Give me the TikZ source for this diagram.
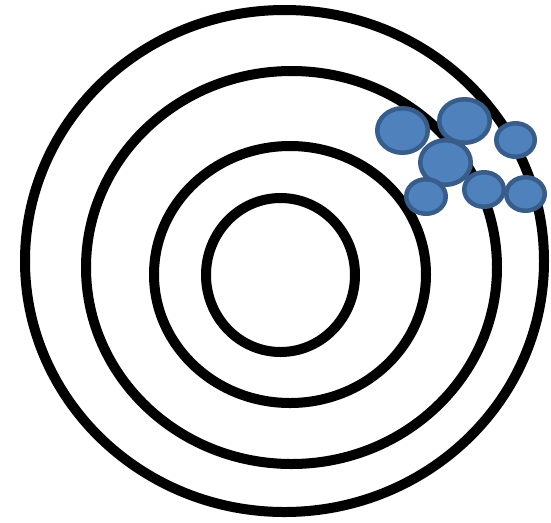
\documentclass[tikz,border=0pt]{standalone}
\usepackage{tikz}

\definecolor{dotfill}{RGB}{79,129,189}
\definecolor{dotedge}{RGB}{56,93,138}

\begin{document}
\begin{tikzpicture}[x=0.02cm,y=-0.02cm,
  ring/.style={line width=0.2cm,black},
  hit/.style={fill=dotfill,draw=dotedge,line width=0.09cm}]
\useasboundingbox (0,0) rectangle (551,522);

\draw[ring] (284.5,261) ellipse [x radius=259.5,y radius=251];
\draw[ring] (291.5,267.5) ellipse [x radius=205.5,y radius=196.5];
\draw[ring] (290,274.5) ellipse [x radius=136,y radius=128.5];
\draw[ring] (280.5,275) ellipse [x radius=74.5,y radius=77];

\draw[hit] (402.5,130.5) ellipse [x radius=25.25,y radius=22.25];
\draw[hit] (464.5,121) ellipse [x radius=25.25,y radius=21.75];
\draw[hit] (515.5,140) ellipse [x radius=19.25,y radius=16.75];
\draw[hit] (445.5,162.5) ellipse [x radius=25.25,y radius=22.25];
\draw[hit] (426,196.5) ellipse [x radius=19.75,y radius=17.25];
\draw[hit] (484,189.5) ellipse [x radius=19.75,y radius=17.25];
\draw[hit] (525.5,194) ellipse [x radius=19.25,y radius=16.75];
\end{tikzpicture}
\end{document}
